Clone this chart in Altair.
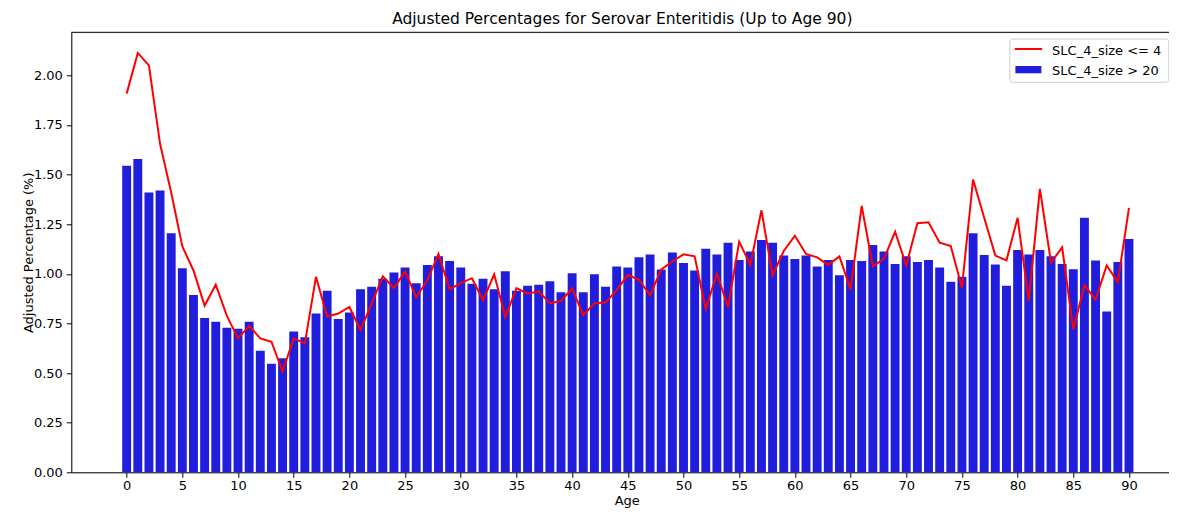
import altair as alt
import pandas as pd

# ---------------- data ----------------
AGES = list(range(91))
SERIES = ["SLC_4_size <= 4", "SLC_4_size > 20"]

LINE_VALUES = [
    1.908, 2.113, 2.050, 1.655, 1.410, 1.138, 1.017, 0.840, 0.945, 0.788,
    0.675, 0.737, 0.675, 0.658, 0.508, 0.675, 0.650, 0.985, 0.785, 0.800,
    0.833, 0.717, 0.850, 0.987, 0.928, 1.012, 0.882, 0.967, 1.100, 0.922,
    0.953, 0.978, 0.868, 0.998, 0.782, 0.928, 0.900, 0.912, 0.852, 0.863,
    0.927, 0.792, 0.852, 0.855, 0.918, 0.995, 0.970, 0.892, 1.022, 1.062,
    1.098, 1.088, 0.822, 1.002, 0.832, 1.162, 1.045, 1.320, 0.992, 1.115,
    1.192, 1.100, 1.083, 1.045, 1.088, 0.922, 1.342, 1.038, 1.075, 1.212,
    1.042, 1.255, 1.260, 1.157, 1.140, 0.930, 1.475, 1.283, 1.092, 1.068,
    1.282, 0.863, 1.428, 1.057, 1.133, 0.720, 0.943, 0.870, 1.042, 0.958,
    1.332,
]

BAR_VALUES = [
    1.545, 1.578, 1.410, 1.420, 1.205, 1.028, 0.893, 0.777, 0.758, 0.728,
    0.723, 0.758, 0.613, 0.547, 0.575, 0.710, 0.680, 0.800, 0.915, 0.772,
    0.805, 0.922, 0.935, 0.975, 1.007, 1.032, 0.953, 1.045, 1.088, 1.065,
    1.032, 0.950, 0.975, 0.922, 1.013, 0.915, 0.940, 0.945, 0.963, 0.907,
    1.003, 0.907, 0.998, 0.935, 1.037, 1.032, 1.083, 1.098, 1.022, 1.108,
    1.055, 1.017, 1.127, 1.098, 1.157, 1.070, 1.113, 1.170, 1.157, 1.093,
    1.075, 1.093, 1.037, 1.070, 0.993, 1.070, 1.065, 1.145, 1.113, 1.050,
    1.088, 1.060, 1.070, 1.032, 0.960, 0.985, 1.205, 1.095, 1.047, 0.940,
    1.120, 1.098, 1.120, 1.088, 1.050, 1.023, 1.282, 1.067, 0.810, 1.060,
    1.175,
]

X_TICKS = list(range(0, 91, 5))
Y_TICKS = [0.0, 0.25, 0.5, 0.75, 1.0, 1.25, 1.5, 1.75, 2.0]

TITLE = "Adjusted Percentages for Serovar Enteritidis (Up to Age 90)"
X_TITLE = "Age"
Y_TITLE = "Adjusted Percentage (%)"

df = pd.DataFrame({"Age": AGES, "small": LINE_VALUES, "large": BAR_VALUES})

# ---------------- styling ----------------
FONT = "DejaVu Sans"
W, H = 1098, 440
PX_PER_AGE = 11.137
X_MIN = -4.97
BAR_COLOR = "#201edc"
LINE_COLOR = "#ff0000"

xscale = alt.Scale(domain=[X_MIN, X_MIN + W / PX_PER_AGE], nice=False, zero=False)
yscale = alt.Scale(domain=[0, 2.217], nice=False, zero=True)

x_axis = alt.Axis(
    values=X_TICKS, title=X_TITLE, grid=False, tickSize=5, tickColor="black",
    domainColor="black", labelColor="black", labelFont=FONT, labelFontSize=13,
    labelBaseline="alphabetic", labelPadding=12.5, labelFlush=False,
    titleFont=FONT, titleFontSize=13, titleFontWeight="normal", titleColor="black",
    titleBaseline="alphabetic", titleX=555.4, titleY=32.7,
)
y_axis = alt.Axis(
    values=Y_TICKS, format=".2f", title=Y_TITLE, grid=False, tickSize=5,
    tickColor="black", domainColor="black", labelColor="black", labelFont=FONT,
    labelFontSize=13, labelPadding=4, labelFlush=False,
    titleFont=FONT, titleFontSize=13, titleFontWeight="normal", titleColor="black",
    titleBaseline="alphabetic", titleX=-38.3, titleY=H / 2, titleAngle=270,
)

bars = (
    alt.Chart(df)
    .transform_calculate(x0="datum.Age - 0.4", x1="datum.Age + 0.4")
    .mark_bar(color=BAR_COLOR)
    .encode(
        x=alt.X("x0:Q", scale=xscale, axis=x_axis),
        x2="x1:Q",
        y=alt.Y("large:Q", scale=yscale, axis=y_axis),
        y2=alt.datum(0),
    )
)

line = (
    alt.Chart(df)
    .mark_line(color=LINE_COLOR, strokeWidth=2)
    .encode(
        x=alt.X("Age:Q", scale=xscale, axis=x_axis),
        y=alt.Y("small:Q", scale=yscale, axis=y_axis),
    )
)

# top spine
spine = (
    alt.Chart(pd.DataFrame({"k": [0]}))
    .mark_rule(color="black", strokeWidth=1)
    .encode(x=alt.value(0), x2=alt.value(W), y=alt.value(0))
)

# ---------------- legend (drawn manually, matplotlib style) ----------------
LX = W - 159.5  # left edge of legend frame
one = pd.DataFrame({"k": [0]})
legend_box = (
    alt.Chart(one)
    .mark_rect(fill="white", fillOpacity=0.8, stroke="#cccccc", strokeWidth=1, cornerRadius=3)
    .encode(x=alt.value(LX), x2=alt.value(W - 0.5), y=alt.value(6.7), y2=alt.value(50))
)
legend_line = (
    alt.Chart(one)
    .mark_rule(color=LINE_COLOR, strokeWidth=2)
    .encode(x=alt.value(LX + 5), x2=alt.value(LX + 32.3), y=alt.value(16.7))
)
legend_rect = (
    alt.Chart(one)
    .mark_rect(color=BAR_COLOR)
    .encode(x=alt.value(LX + 5.6), x2=alt.value(LX + 31.6), y=alt.value(33.7), y2=alt.value(41))
)
legend_text1 = (
    alt.Chart(pd.DataFrame({"label": [SERIES[0]]}))
    .mark_text(align="left", baseline="alphabetic", font=FONT, fontSize=13, color="black")
    .encode(text="label:N", x=alt.value(LX + 42.3), y=alt.value(22.7))
)
legend_text2 = (
    alt.Chart(pd.DataFrame({"label": [SERIES[1]]}))
    .mark_text(align="left", baseline="alphabetic", font=FONT, fontSize=13, color="black")
    .encode(text="label:N", x=alt.value(LX + 42.3), y=alt.value(42.7))
)

chart = (
    alt.layer(bars, line, spine, legend_box, legend_line, legend_rect, legend_text1, legend_text2)
    .properties(
        width=W,
        height=H,
        title=alt.TitleParams(
            text=TITLE, font=FONT, fontSize=15.5, fontWeight="normal", color="black",
            anchor="middle", dx=2, dy=15, offset=7.3, baseline="alphabetic", frame="group",
        ),
        padding={"left": 63.3, "top": 24.3, "right": 0, "bottom": 36.7},
        autosize=alt.AutoSizeParams(type="none"),
    )
    .configure_view(stroke=None)
    .configure(background="white")
)

chart.save("out.html", embed_options={"renderer": "svg", "actions": False})
